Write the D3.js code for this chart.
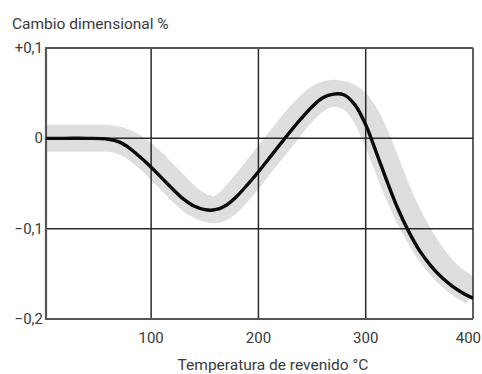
<!DOCTYPE html>
<html>
<head>
<meta charset="utf-8">
<script src="https://cdn.jsdelivr.net/npm/d3@7"></script>
<style>
  html, body { margin: 0; padding: 0; background: #fff; }
  svg { display: block; }
  text { font-family: Roboto, "Liberation Sans", sans-serif; fill: #3a3a3a; }
</style>
</head>
<body>
<svg id="chart" width="482" height="374"></svg>
<script>
// Tempering temperature (°C)
const temps = [2, 20, 40, 60, 70, 80, 90, 100, 110, 120, 130, 140, 150, 160, 170, 180, 190, 200,
  210, 220, 230, 240, 250, 260, 270, 280, 290, 300, 310, 320, 330, 340, 350, 360, 370, 380, 390, 400];
// Dimensional change (%) — mean curve
const meanChange = [0.000, 0.000, 0.000, -0.001, -0.004, -0.011, -0.021, -0.032, -0.044, -0.056, -0.067,
  -0.075, -0.079, -0.079, -0.074, -0.064, -0.051, -0.037, -0.022, -0.007, 0.008, 0.022, 0.035, 0.045,
  0.049, 0.048, 0.037, 0.015, -0.016, -0.048, -0.078, -0.103, -0.124, -0.140, -0.153, -0.163, -0.171, -0.177];
// Centre line of the scatter band
const bandChange = [0.000, 0.000, 0.000, 0.000, -0.002, -0.007, -0.015, -0.025, -0.037, -0.049, -0.061,
  -0.071, -0.077, -0.079, -0.073, -0.061, -0.047, -0.032, -0.017, -0.002, 0.013, 0.027, 0.039, 0.047,
  0.050, 0.048, 0.041, 0.025, 0.000, -0.030, -0.060, -0.086, -0.108, -0.127, -0.142, -0.154, -0.163, -0.170];
const xTicks = [100, 200, 300, 400];
const yTicks = [0.1, 0, -0.1, -0.2];
const yTickLabels = ["+0,1", "0", "\u22120,1", "\u22120,2"];

const svg = d3.select("#chart");
const plotL = 46, plotR = 473, plotT = 48, plotB = 319;

const x = d3.scaleLinear().domain([2, 400]).range([plotL, plotR]);
const y = d3.scaleLinear().domain([-0.2, 0.1]).range([plotB, plotT]);

svg.append("defs").append("clipPath").attr("id", "plotClip")
  .append("rect").attr("x", plotL).attr("y", plotT).attr("width", plotR - plotL).attr("height", plotB - plotT);

const line = d3.line().curve(d3.curveCatmullRom.alpha(0.5));

// scatter band
svg.append("path")
  .attr("clip-path", "url(#plotClip)")
  .attr("d", line(temps.map((t, i) => [x(t), y(bandChange[i])])))
  .attr("fill", "none").attr("stroke", "#dedede").attr("stroke-width", 27)
  .attr("stroke-linecap", "butt").attr("stroke-linejoin", "round");

// grid
const grid = svg.append("g");
grid.selectAll(".vx").data(xTicks).join("line")
  .attr("x1", d => x(d)).attr("x2", d => x(d)).attr("y1", plotT).attr("y2", plotB)
  .attr("stroke", "#2a2a2a").attr("stroke-width", 1.5);
grid.selectAll(".hy").data(yTicks.filter(v => v !== 0.1 && v !== -0.2)).join("line")
  .attr("x1", plotL).attr("x2", plotR).attr("y1", d => y(d)).attr("y2", d => y(d))
  .attr("stroke", "#2a2a2a").attr("stroke-width", 1.5);
// frame
svg.append("line").attr("x1", plotL).attr("x2", plotR).attr("y1", y(0.1)).attr("y2", y(0.1))
  .attr("stroke", "#555").attr("stroke-width", 2.2);
svg.append("line").attr("x1", plotL).attr("x2", plotR).attr("y1", y(-0.2)).attr("y2", y(-0.2))
  .attr("stroke", "#555").attr("stroke-width", 2.2);
svg.append("line").attr("x1", plotL).attr("x2", plotL).attr("y1", plotT - 1).attr("y2", plotB + 1)
  .attr("stroke", "#555").attr("stroke-width", 2.2);

// mean curve
svg.append("path")
  .attr("clip-path", "url(#plotClip)")
  .attr("d", line(temps.map((t, i) => [x(t), y(meanChange[i])])))
  .attr("fill", "none").attr("stroke", "#0a0a0a").attr("stroke-width", 3.4)
  .attr("stroke-linejoin", "round");

// y tick labels
svg.selectAll(".yl").data(yTicks).join("text")
  .attr("x", plotL - 3).attr("y", d => y(d) + 5)
  .attr("text-anchor", "end").attr("font-size", 15)
  .text((d, i) => yTickLabels[i]);

// x tick labels (the last one sits against the right edge)
svg.selectAll(".xl").data(xTicks).join("text")
  .attr("x", d => d === 400 ? x(d) + 8 : x(d)).attr("y", 343)
  .attr("text-anchor", d => d === 400 ? "end" : "middle").attr("font-size", 15)
  .text(d => d);

svg.append("text").attr("x", 12).attr("y", 29).attr("font-size", 15.5)
  .text("Cambio dimensional %");
svg.append("text").attr("x", 273).attr("y", 370).attr("text-anchor", "middle").attr("font-size", 15.5)
  .text("Temperatura de revenido \u00B0C");
</script>
</body>
</html>
